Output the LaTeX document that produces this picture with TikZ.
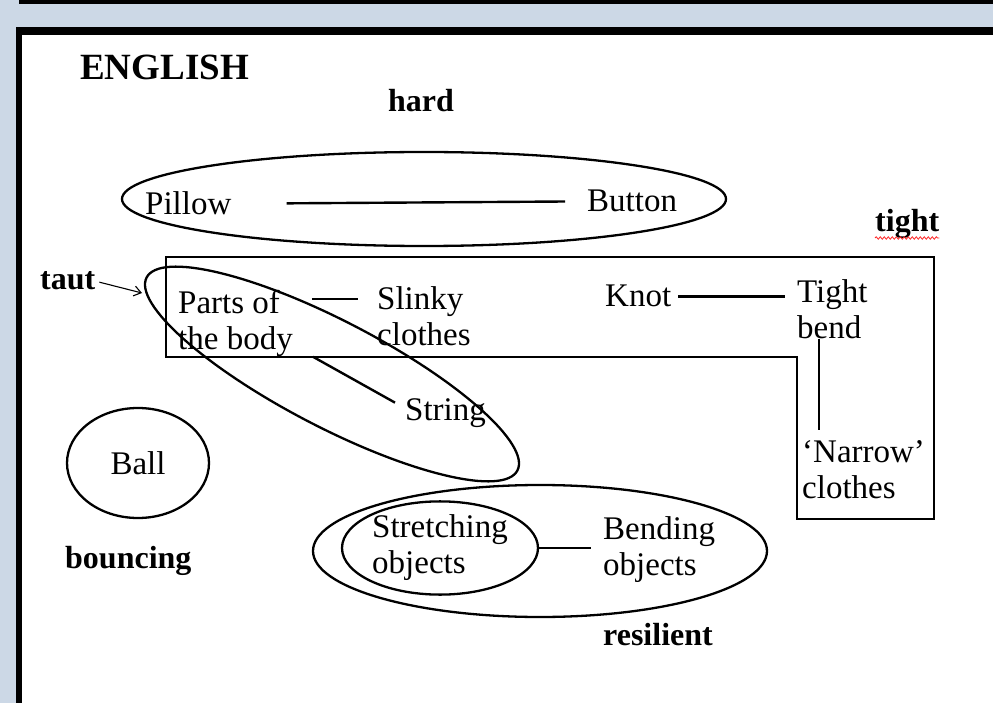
\documentclass[tikz,border=0pt]{standalone}
\usepackage{fontspec}
\setmainfont{Liberation Serif}
\usetikzlibrary{shapes.geometric,arrows.meta,decorations.pathmorphing}
\definecolor{pageblue}{RGB}{204,216,230}

\begin{document}
\begin{tikzpicture}[x=1pt, y=-1pt,
            txt/.style={font=\fontsize{33}{36}\selectfont, inner sep=0, align=left},
            lab/.style={font=\fontsize{32}{36}\selectfont\bfseries, inner sep=0},
            ring/.style={line width=2.3pt},
            conn/.style={line width=2.4pt},
            pointer/.style={line width=1.1pt, -{Straight Barb[length=7pt, width=10pt]}}]
            \useasboundingbox (0,0) rectangle (993,703);
            \fill[pageblue] (0,0) rectangle (993,703);
            \fill[white] (22,35) rectangle (993,703);
            \fill[black] (19,0) rectangle (993,4);
            \fill[black] (16,27) rectangle (993,35);
            \fill[black] (16,27) rectangle (22,703);

            \node[font=\fontsize{37}{40}\selectfont\bfseries, inner sep=0, anchor=base west] (english) at (80,80) {ENGLISH};
            \node[lab, anchor=base west] (hard) at (388,112) {hard};

            \draw[ring] (424,199) ellipse [x radius=302, y radius=47];
            \node[txt, anchor=base west] (pillow) at (145,215) {Pillow};
            \node[txt, anchor=base west] (button) at (587,212) {Button};
            \draw[conn, shorten <=55pt, shorten >=22pt] (pillow.east) -- (button.west);

            \node[lab, anchor=base west] (tight) at (875,232) {tight};
            \draw[red!85, line width=0.8pt, decorate, decoration={snake, amplitude=1.2pt, segment length=4pt}] ([yshift=-6pt]tight.base west) -- ([yshift=-6pt]tight.base east);
            \draw[ring] (166,257) -- (934,257) -- (934,519) -- (797,519) -- (797,357) -- (166,357) -- cycle;

            \node[lab, anchor=base west] (taut) at (40,290) {taut};
            \coordinate (tautend) at (142,293);
            \draw[pointer, shorten <=4pt] (taut.east) -- (tautend);

            \draw[ring, rotate around={-27.5:(332,374)}] (332,374) ellipse [x radius=209, y radius=53];
            \node[txt, anchor=north west] (parts) at (178,290) {Parts of\\the body};
            \node[txt, anchor=north west] (slinky) at (377,286) {Slinky\\clothes};
            \node[txt, anchor=base west] (string) at (405,420) {String};
            \draw[conn] ([shift={(19,9)}]parts.north east) -- ([shift={(-19,13)}]slinky.north west);
            \draw[conn] ([xshift=20pt]parts.south east) -- ([shift={(-10,-10)}]string.west);

            \node[txt, anchor=base west] (knot) at (605,307) {Knot};
            \node[txt, anchor=north west] (tightbend) at (797,279) {Tight\\bend};
            \node[txt, anchor=north west] (narrow) at (802,440) {`Narrow'\\clothes};
            \draw[conn, shorten <=7pt, shorten >=12pt] (knot.east) -- (knot.east -| tightbend.west);
            \draw[conn, shorten >=10pt] ([xshift=22pt]tightbend.south west) -- ([xshift=22pt]tightbend.south west |- narrow.north);

            \node[txt, ellipse, draw, ring, minimum width=142, minimum height=110] (ball) at (138,463) {Ball};
            \node[lab, anchor=base west] (bouncing) at (65,568) {bouncing};

            \draw[ring] (540,551) ellipse [x radius=227, y radius=66];
            \node[txt, ellipse, draw, ring, minimum width=196, minimum height=84] (stretch) at (440,548) {Stretching\\objects};
            \node[txt, anchor=north west] (bending) at (603,516) {Bending\\objects};
            \draw[conn, shorten >=12pt] (stretch.east) -- (bending.west |- stretch.east);
            \node[lab, anchor=base west] (resilient) at (603,645) {resilient};
        \end{tikzpicture}
\end{document}
